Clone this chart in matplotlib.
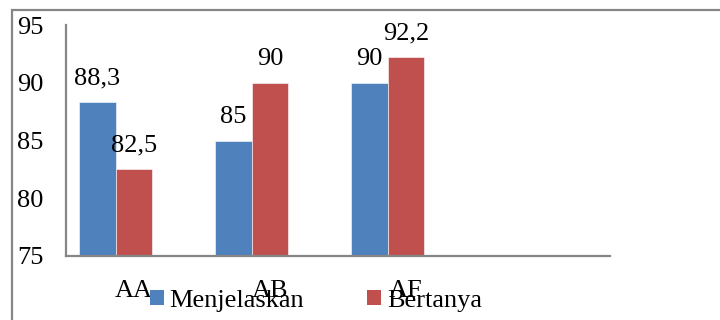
import numpy as np
import matplotlib.pyplot as plt
from matplotlib.patches import Rectangle, Patch

plt.rcParams['font.family'] = ['Liberation Serif', 'DejaVu Serif']

# data
categories = ['AA', 'AB', 'AF', '']
menjelaskan = [88.3, 85, 90, None]
bertanya = [82.5, 90, 92.2, None]
y_ticks = [75, 80, 85, 90, 95]

BLUE = '#4F81BD'
RED = '#C0504D'
GRAY = '#868686'
FS = 19

fig = plt.figure(figsize=(7.2, 3.2), dpi=100)
fig.patch.set_facecolor('white')

# outer chart frame (only top and left edges fall inside the image)
fig.add_artist(Rectangle((12 / 720, -0.1), 1.0, 1 - 10 / 320 + 0.1,
                         transform=fig.transFigure, fill=False,
                         edgecolor=GRAY, linewidth=1.6))

ax = fig.add_axes([66 / 720, 1 - 256 / 320, (610 - 66) / 720, (256 - 25) / 320])

x = np.arange(len(categories))
w = 0.268


def draw_series(values, offset, color):
    xs = [xi + offset for xi, v in zip(x, values) if v is not None]
    vs = [v for v in values if v is not None]
    bars = ax.bar(xs, [v - 75 for v in vs], width=w, bottom=75, color=color,
                  edgecolor='white', linewidth=0.4)
    for b, v in zip(bars, vs):
        label = f'{v:g}'.replace('.', ',')
        ax.annotate(label, (b.get_x() + b.get_width() / 2, v),
                    xytext=(0, 17), textcoords='offset points',
                    ha='center', va='center', fontsize=FS, annotation_clip=False)


draw_series(menjelaskan, -w, BLUE)
draw_series(bertanya, 0, RED)

ax.set_xlim(-0.5, len(categories) - 0.5)
ax.set_ylim(75, 95)
ax.set_yticks(y_ticks)
ax.set_yticklabels([str(t) for t in y_ticks], fontsize=FS)
ax.set_xticks(x)
ax.set_xticklabels(categories, fontsize=FS)
ax.tick_params(axis='y', length=0, pad=16)
ax.tick_params(axis='x', length=0, pad=17)

for side in ('top', 'right'):
    ax.spines[side].set_visible(False)
for side in ('left', 'bottom'):
    ax.spines[side].set_color(GRAY)
    ax.spines[side].set_linewidth(1.6)

handles = [Patch(facecolor=BLUE, label='Menjelaskan'),
           Patch(facecolor=RED, label='Bertanya')]
fig.legend(handles=handles, loc='center', bbox_to_anchor=(316 / 720, 1 - 301 / 320),
           ncol=2, frameon=False, fontsize=FS, handlelength=0.53, handleheight=0.53,
           handletextpad=0.2, columnspacing=2.4, borderpad=0, borderaxespad=0)

fig.savefig('out.png', dpi=100, facecolor='white')
